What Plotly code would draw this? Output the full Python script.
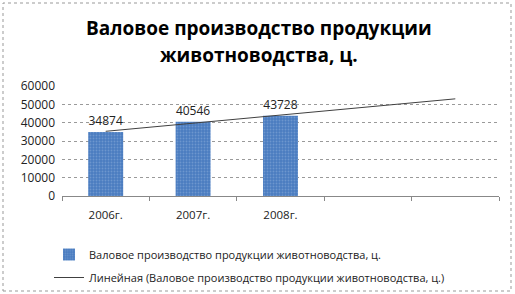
import numpy as np
import plotly.graph_objects as go

categories = ["2006г.", "2007г.", "2008г."]
extra_categories = [" ", "  "]
values = [34874, 40546, 43728]
series_name = "Валовое производство продукции животноводства, ц."
trend_name = "Линейная (Валовое производство продукции животноводства, ц.)"
title_lines = ["Валовое производство продукции", "животноводства, ц."]
y_ticks = [0, 10000, 20000, 30000, 40000, 50000, 60000]

all_cats = categories + extra_categories
xs = np.arange(1, len(values) + 1)
slope, intercept = np.polyfit(xs, values, 1)
trend_x = np.arange(1, len(all_cats) + 1)
trend_y = slope * trend_x + intercept

font_family = "Open Sans, DejaVu Sans, sans-serif"

W, H = 515, 294
ML, MR, MT, MB = 62, 16, 86, 98
PW, PH = W - ML - MR, H - MT - MB


def px_x(px):
    return (px - ML) / PW


def px_y(py):
    return (H - MB - py) / PH


fig = go.Figure()
fig.add_trace(go.Bar(
    x=categories, y=values, name=series_name, legendgroup="a",
    marker=dict(color="#4a7cc0", line=dict(width=0),
                pattern=dict(shape=".", fgcolor="#8fb0dc", size=3, solidity=0.3)),
    width=0.4,
    text=[str(v) for v in values], textposition="outside",
    textfont=dict(size=12, color="#222"), cliponaxis=False,
))
fig.add_trace(go.Scatter(
    x=all_cats, y=trend_y, mode="lines", name=trend_name, legendgroup="b",
    line=dict(color="#404040", width=1),
))

annotations = [
    dict(text=title_lines[0], xref="paper", yref="paper", x=px_x(259), y=px_y(28),
         xanchor="center", yanchor="middle", showarrow=False,
         font=dict(family=font_family, size=19, color="black", weight="bold")),
    dict(text=title_lines[1], xref="paper", yref="paper", x=px_x(259), y=px_y(55),
         xanchor="center", yanchor="middle", showarrow=False,
         font=dict(family=font_family, size=19, color="black", weight="bold")),
]

fig.update_layout(
    width=W, height=H,
    margin=dict(l=ML, r=MR, t=MT, b=MB, autoexpand=False),
    paper_bgcolor="white", plot_bgcolor="white",
    font=dict(family=font_family, size=11, color="#222"),
    showlegend=True,
    legend=dict(orientation="v", xref="container", yref="container",
                x=49 / W, xanchor="left", y=1 - 240 / H, yanchor="top",
                font=dict(size=11, color="#222"), tracegroupgap=4, itemwidth=30,
                bgcolor="rgba(0,0,0,0)"),
    xaxis=dict(type="category", categoryorder="array", categoryarray=all_cats,
               range=[-0.5, len(all_cats) - 0.5], tickson="boundaries",
               ticks="outside", ticklen=4, tickcolor="#888", showgrid=False,
               showline=True, linecolor="#888", linewidth=1,
               ticklabelstandoff=8,
               tickfont=dict(size=11.5, color="#222")),
    yaxis=dict(range=[0, 60000], tickvals=y_ticks, ticktext=[str(t) for t in y_ticks],
               showgrid=True, gridcolor="#9a9a9a", griddash="dot", gridwidth=1,
               zeroline=False, showline=False, ticks="", ticklabelstandoff=6,
               tickfont=dict(size=12, color="#222")),
    annotations=annotations,
    shapes=[dict(type="rect", xref="paper", yref="paper", x0=px_x(3), x1=px_x(511),
                 y0=px_y(291), y1=px_y(3), line=dict(color="#999", width=1, dash="dot"))],
)

fig.write_html("out.html")
